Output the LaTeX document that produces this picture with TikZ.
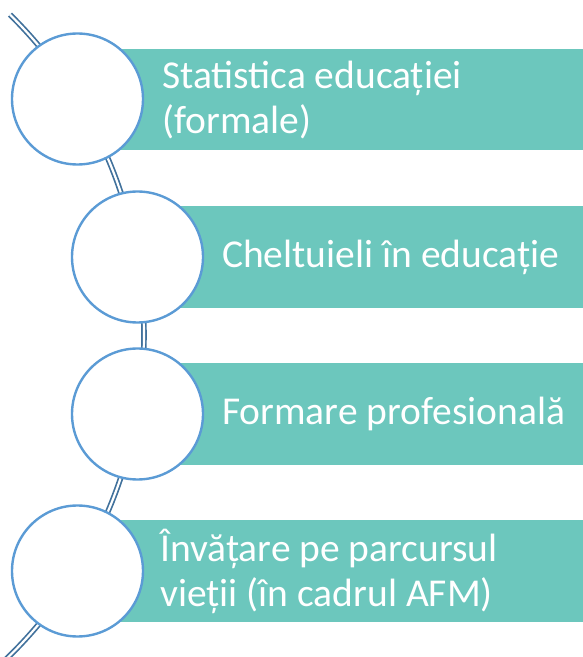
\documentclass[tikz,border=0pt]{standalone}
\usepackage{fontspec}
\setmainfont{Carlito}
\definecolor{teal1}{HTML}{6CC7BD}
\definecolor{ringblue}{HTML}{5B9BD5}
\definecolor{arcblue}{HTML}{41719C}
\begin{document}
\begin{tikzpicture}[x=1pt,y=1pt,
  band/.style={fill=teal1,draw=none},
  ring/.style={circle,draw=ringblue,line width=2.4pt,fill=white,minimum size=131pt,inner sep=0pt},
  label/.style={anchor=west,align=left,text=white,font=\fontsize{39.5}{45}\selectfont,inner sep=0pt}]
\useasboundingbox (0,0) rectangle (583,657);
% arc
\draw[arcblue,line width=1.7pt,double=white,double distance=2.2pt]
  ([shift={(45.4:450)}]-306,322) arc[start angle=45.4,end angle=-47,radius=450];
% bands
\fill[band] (77.5,507) rectangle (583,608);
\fill[band] (137.5,349) rectangle (583,451);
\fill[band] (137.5,192) rectangle (583,294);
\fill[band] (77.5,35) rectangle (583,137);
% circles
\node[ring] (c1) at (77.5,558) {};
\node[ring] (c2) at (137.5,400) {};
\node[ring] (c3) at (137.5,243) {};
\node[ring] (c4) at (77.5,86) {};
% labels
\node[label] (t1) at (162,557) {Statistica educației\\(formale)};
\node[label] (t2) at (222,400) {Cheltuieli în educație};
\node[label] (t3) at (222,243) {Formare profesională};
\node[label] (t4) at (160,86) {Învățare pe parcursul\\vieții (în cadrul AFM)};
\end{tikzpicture}
\end{document}
